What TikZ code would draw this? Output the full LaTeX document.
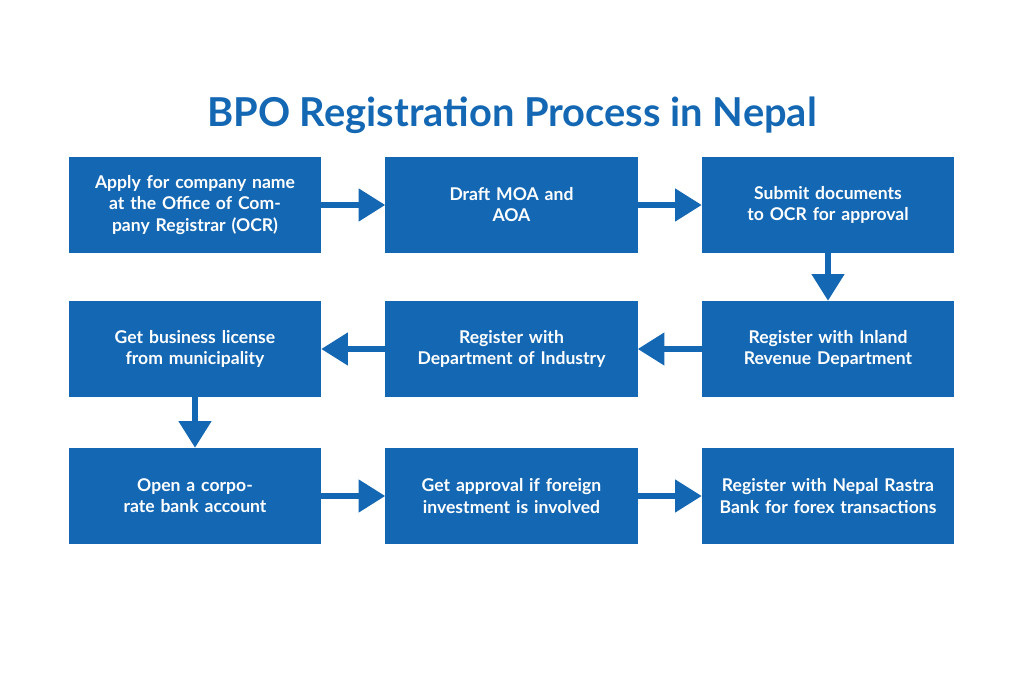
\documentclass[tikz,border=0pt]{standalone}
\usepackage{fontspec}
\setmainfont{Lato}
\usetikzlibrary{arrows.meta}
\definecolor{bpoblue}{HTML}{1467B3}
\tikzset{
  stage/.style={rectangle, fill=bpoblue, minimum width=7.56cm, minimum height=2.88cm,
    text width=7cm, align=center, text=white, font=\bfseries\fontsize{15}{18}\selectfont},
  flow/.style={-{Triangle[width=0.95cm,length=0.8cm]}, line width=0.17cm, draw=bpoblue}
}
\begin{document}
\begin{tikzpicture}[line cap=butt,line join=round,x=0.03cm,y=-0.03cm]
\useasboundingbox (0,0) rectangle (1024,683);

\node[font=\bfseries\fontsize{34}{40}\selectfont, text=bpoblue] (title) at (512,115) {BPO Registration Process in Nepal};

\node[stage] (name) at (195,205) {Apply for company name at the Office of Company Registrar (OCR)};
\node[stage] (moa) at (511.5,205) {Draft MOA and\\AOA};
\node[stage] (submit) at (828,205) {Submit documents to OCR for approval};

\node[stage] (inland) at (828,349) {Register with Inland Revenue Department};
\node[stage] (industry) at (511.5,349) {Register with\\Department of Industry};
\node[stage] (license) at (195,349) {Get business license from municipality};

\node[stage] (bank) at (195,496) {Open a corporate bank account};
\node[stage] (foreign) at (511.5,496) {Get approval if foreign investment is involved};
\node[stage] (nrb) at (828,496) {Register with Nepal Rastra Bank for forex transactions};

\draw[flow] (name) -- (moa);
\draw[flow] (moa) -- (submit);
\draw[flow] (submit) -- (inland);
\draw[flow] (inland) -- (industry);
\draw[flow] (industry) -- (license);
\draw[flow] (license) -- (bank);
\draw[flow] (bank) -- (foreign);
\draw[flow] (foreign) -- (nrb);
\end{tikzpicture}
\end{document}
